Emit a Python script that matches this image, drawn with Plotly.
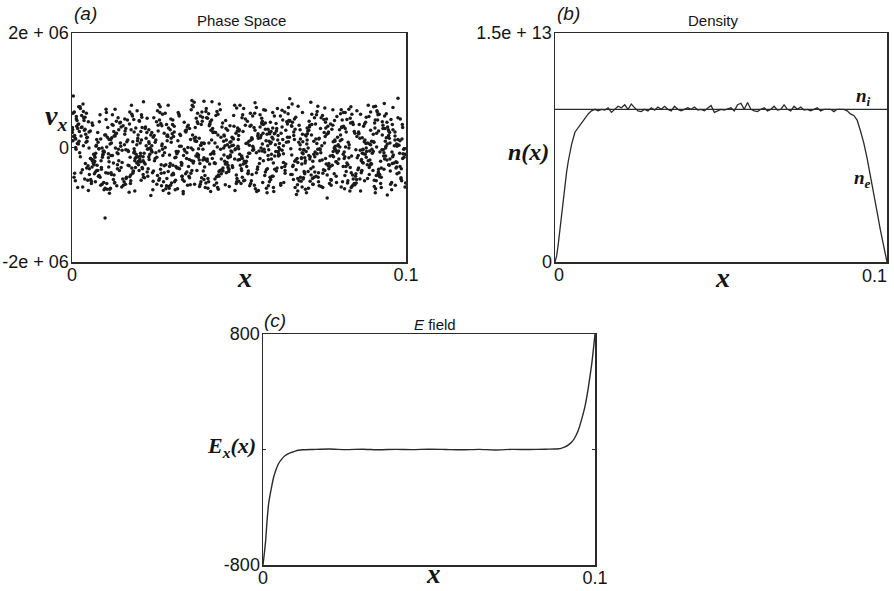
import plotly.graph_objects as go

# ---------------- data ----------------
# (a) phase space: particle positions (units of 1e-4) and velocities (units of 1e4)
PS_X_E4 = [
    3,147,262,318,455,571,609,744,829,961, 27,118,205,389,412,538,683,725,876,934,
    55,176,239,351,487,502,657,791,812,988, 81,133,291,304,443,596,624,768,857,915,
    14,189,224,367,471,519,698,702,891,947, 66,102,277,342,428,555,631,759,838,973,
    39,161,213,396,496,584,672,713,804,926, 92,125,256,329,405,543,645,787,863,999,
    8,154,281,375,462,527,617,736,847,952, 47,197,230,314,438,563,690,779,821,908,
    73,111,265,359,479,508,663,748,894,939, 20,169,208,383,421,579,606,727,832,982,
    60,138,249,336,451,532,679,795,869,920, 86,183,294,307,499,591,628,762,806,964,
    32,129,217,371,434,516,652,709,881,945, 1,192,270,348,467,548,694,771,853,901,
    69,107,236,392,410,569,640,740,817,975, 43,173,286,322,484,536,668,718,898,933,
    97,146,201,363,447,599,613,785,840,957, 17,115,253,379,491,521,687,753,875,914,
    52,158,228,331,426,573,602,732,826,991, 78,199,274,300,458,510,659,794,862,949,
    25,121,243,356,473,553,633,706,808,928, 63,185,219,385,415,587,675,764,889,967,
    11,136,288,311,440,541,621,721,845,906, 88,164,261,372,495,504,696,781,819,985,
    36,112,210,344,452,566,647,742,870,941, 58,177,247,397,419,529,610,711,835,918,
    5,150,296,316,466,594,684,756,856,979, 75,195,233,368,437,517,626,799,882,935,
    29,126,268,327,488,558,661,729,813,960, 95,167,206,390,401,582,615,775,867,904,
    49,140,279,350,461,534,692,717,823,972, 18,181,225,381,429,575,638,746,894,951,
    71,104,258,333,476,512,670,788,850,911, 41,153,240,362,447,549,607,734,801,983,
    84,130,292,306,493,597,651,769,878,924, 7,171,214,395,424,525,686,704,836,944,
    64,119,284,341,456,561,629,751,864,997, 34,188,251,374,407,590,667,793,817,931,
    90,143,203,320,483,539,619,724,859,958, 22,109,266,354,418,570,699,760,890,916,
    56,162,237,388,469,501,643,738,829,970, 13,198,299,302,435,546,674,782,849,937,
    77,124,222,366,497,586,612,715,803,995, 45,179,273,338,412,523,655,767,887,909,
    99,135,245,393,459,568,691,701,842,948, 30,157,211,325,430,508,634,786,871,976,
    67,101,287,358,474,557,680,749,810,921, 10,191,230,377,403,593,622,731,858,962,
    51,149,263,310,481,533,664,797,895,943, 82,116,216,347,444,577,604,722,833,986,
    38,174,297,369,420,514,649,758,873,912, 2,128,241,334,465,552,688,776,807,954,
    62,186,276,399,409,588,616,712,866,929, 24,110,205,355,485,528,676,743,885,990,
    93,166,254,318,426,564,637,790,826,936, 44,139,289,384,454,506,658,726,854,973,
    16,182,227,343,492,579,601,773,818,903, 70,123,269,376,416,541,695,708,892,959,
    12,131,244,357,468,525,603,781,842,976, 46,185,209,311,497,582,660,712,897,918,
    79,103,272,386,433,548,629,764,821,955, 28,150,231,340,406,597,677,739,868,902,
    59,172,295,323,459,511,614,796,853,987, 4,118,258,379,482,563,648,721,815,931,
    88,194,216,302,415,536,693,755,884,967, 35,127,284,364,449,589,601,707,830,944,
    67,161,207,395,476,507,666,783,879,912, 19,109,269,336,424,574,638,746,806,993,
    95,178,226,317,462,520,683,728,869,926, 51,142,290,371,401,556,619,773,838,959,
    8,196,249,345,490,595,652,703,892,905, 74,113,202,398,437,531,687,792,818,948,
    40,158,276,327,471,568,607,734,864,981, 84,186,238,384,413,502,671,757,827,917,
    23,136,264,306,455,584,631,716,881,941, 62,101,213,359,494,540,694,778,851,973,
    17,173,297,312,428,579,658,742,802,929, 98,124,256,391,467,514,618,788,873,908,
    31,167,219,329,441,552,680,710,836,965, 72,145,281,370,405,596,642,769,894,936,
    15,190,234,352,488,527,699,724,812,990, 56,106,271,308,421,566,625,761,858,921,
    90,134,205,387,478,509,662,715,885,952, 37,182,243,333,452,573,606,798,833,903,
    68,117,285,394,409,545,689,737,871,970, 3,159,228,349,474,591,645,705,809,939,
    81,192,260,318,438,530,676,780,847,918, 44,121,292,375,499,556,611,751,877,985,
    25,171,214,342,427,503,655,733,823,946, 60,104,267,382,460,587,697,766,899,909,
    93,147,239,303,445,541,629,792,840,976, 10,188,283,366,493,577,670,718,860,932,
    77,129,201,399,418,519,603,757,815,961, 48,163,254,321,470,560,683,701,887,924,
    20,111,276,357,402,592,637,776,829,994, 65,179,222,388,457,535,666,745,867,913,
    1,138,298,336,483,570,621,709,804,950, 86,156,246,314,433,513,690,785,852,938,
    42,102,210,360,466,558,612,730,891,979, 70,194,279,392,425,599,648,759,834,902,
    13,126,231,328,499,508,676,722,872,957, 55,175,262,373,414,579,633,774,813,922,
    96,140,204,346,480,525,692,736,858,989, 27,184,288,301,446,563,617,791,880,943,
    66,114,220,381,407,544,664,704,825,911, 34,197,251,330,473,588,607,767,845,972,
    80,152,289,361,440,500,651,727,897,934, 6,120,236,315,487,552,697,750,816,967,
    49,168,267,395,431,581,625,782,862,905, 87,105,208,352,454,522,684,713,837,950,
    21,187,294,309,492,569,640,763,890,926, 58,133,225,378,422,537,602,738,808,997,
    39,176,271,344,464,594,668,707,876,915, 74,117,242,322,411,510,633,796,850,982,
    11,160,283,386,479,547,689,754,820,940, 91,145,213,339,436,585,617,720,881,968,
    33,199,260,363,498,532,659,787,841,907, 52,108,230,304,448,572,699,740,866,953,
    99,
]
PS_V_E4 = [
    12,-35,48,-7,22,-61,5,33,-18,70, -44,8,-15,62,-29,17,-3,-52,41,-9,
    29,-58,3,-21,74,-12,38,-6,-33,15, -2,46,-71,19,-40,9,55,27,-14,-48,
    37,-19,26,-64,1,50,-27,-79,6,31, -26,67,-9,30,-55,-38,14,44,-68,2,
    53,-4,-47,7,34,23,-82,-16,59,-36, -13,28,64,-50,-24,-1,41,11,-5,-62,
    21,-66,-30,45,13,-45,-8,72,25,-20, -57,16,10,-11,-73,36,61,-31,-42,48,
    4,-25,-38,82,18,-16,-56,3,30,-1, 41,-7,57,-28,-9,65,24,-43,-76,12,
    -34,52,-19,-3,43,-67,9,18,-10,58, 15,-42,31,-60,-2,27,-35,50,66,-27,
    -69,20,-53,11,63,-24,47,-14,-1,36, 26,-12,6,39,-31,78,-4,-63,19,-40,
    -17,35,-84,-22,8,-6,30,16,-49,5, 60,-51,22,-37,56,13,-70,40,-3,-15,
    -8,2,-40,71,-20,-50,33,-1,44,-74, 33,-71,45,-13,25,7,-18,-39,10,62,
    -47,23,-2,-56,-66,40,15,57,-30,-11, 9,-30,-60,24,3,-19,76,-9,-55,28,
    68,-14,18,-45,38,-77,-26,29,14,-4, -22,49,-29,4,-12,32,-65,-48,54,20,
    0,-37,74,-17,-50,55,7,-24,-63,43, -38,10,-6,51,29,-31,-44,66,1,-53,
    47,-80,35,-9,-36,21,59,-2,-26,17, -59,31,-23,-34,80,-10,-7,36,71,-45,
    19,-5,50,-72,-16,44,-52,8,-39,4, -31,64,-12,12,58,-57,25,-20,-7,77,
    56,-48,-67,-26,-4,16,-33,41,37,-16, -6,13,28,46,-62,-39,68,-56,-21,9,
    -75,-23,0,-50,33,60,-11,22,49,-34, 40,55,-43,16,-28,-3,-40,-68,5,26,
    -10,-63,39,-77,10,28,53,2,-46,-58, 23,38,-8,-4,-46,-72,-15,63,31,50,
    -52,-1,-33,37,69,-20,18,-28,-12,-24, 62,-32,80,-18,-7,46,-59,13,-70,6,
    -28,17,-54,27,20,-28,36,-45,58,-69, 3,-76,13,-40,-54,11,-24,54,-16,39,
    -64,43,-20,58,15,-47,0,-12,24,-8, 28,-11,42,-65,48,6,-73,34,-35,57,
    -19,-54,-4,8,-42,31,45,-60,67,-25, 50,22,-48,-31,1,-66,-19,10,-50,33,
    -40,-27,16,79,-22,3,29,-37,12,-2, 11,58,-75,-6,40,-33,-47,25,-23,72,
    -71,-9,52,-41,-65,51,10,-7,40,-30, 36,5,-37,21,26,-15,-61,47,-4,14,
    -46,-44,19,-23,-13,24,39,-22,-60,-51, 16,34,-16,42,52,-52,-3,-50,27,-13,
    -1,-69,61,-57,-35,37,21,5,-28,44, 45,14,-26,0,66,-8,-77,-34,51,-37,
    -55,-17,9,35,-19,-58,47,19,-11,1, 31,-61,-44,-14,5,70,-29,-66,36,-64,
    -24,27,25,-70,-60,-21,13,39,-44,22, 71,-34,-10,14,37,-41,-54,-4,8,-19,
    -12,48,-64,-36,-27,17,62,-25,-58,55, -36,-3,34,55,11,-63,-13,52,-18,-46,
    7,-45,-50,-19,-48,43,34,-15,61,10, -60,39,3,60,30,-5,-42,-71,-31,-28,
    -3,24,-41,66,-18,8,-27,39,-55,86, 18,-9,53,-33,2,-71,44,-20,11,-38,
    -50,61,-14,4,-62,30,-5,-88,27,49, 35,-26,7,-46,51,-12,72,15,-40,-7,
    -21,41,-66,23,-29,57,-36,3,64,-58, 90,-47,29,-2,16,-19,10,-64,-8,33,
    -35,5,-10,48,-77,39,-53,26,-30,13, 52,-62,20,-24,36,-4,61,-42,5,-83,
    -14,33,-57,81,-6,-37,14,-16,44,25, 6,-18,38,-59,27,66,-45,52,-69,-3,
    -61,74,-3,12,-44,-27,31,-8,17,-52, 27,-40,-80,-15,63,20,-12,-33,58,40,
    -45,12,9,36,-2,-56,85,6,-22,-68, 14,-73,46,-49,22,4,-19,-61,33,21,
    -28,50,-32,2,-68,43,25,-11,-76,-10, 57,-2,-6,-64,41,-21,-39,69,9,-43,
    -9,-30,71,27,-13,-79,48,-48,-17,59, 39,22,-23,-40,-54,15,-4,32,-62,-26,
    -70,62,16,-7,8,-43,37,-23,1,45, 22,-56,-49,53,-35,68,-15,-3,37,-79,
    -39,-5,33,-28,76,-9,-58,46,-44,3, 2,44,-72,18,-20,28,9,-37,62,-20,
    47,-35,-1,-53,-75,-46,22,11,-12,35, -56,18,58,-18,33,-1,-66,-29,25,-47,
    -1,-67,-25,40,3,52,-31,79,-54,8, 30,10,-59,-81,-41,-23,55,-6,-35,71,
    -24,-44,12,8,59,35,-9,-52,-3,-36, 60,29,-37,-33,-16,-60,18,24,48,-15,
    -49,-17,75,61,-48,11,-76,-14,-65,29, 17,57,-13,-11,21,-34,42,-70,13,-55,
    -16,-78,-52,30,-27,74,-2,7,-27,18, 43,1,-30,-68,47,-14,-46,37,-10,-72,
    -7,36,26,-45,-3,2,65,-25,-48,52, -58,-23,-67,16,-60,-49,-22,58,40,-4,
    26,67,47,-21,13,39,-70,-40,-19,31, -32,-52,-17,55,-38,-6,5,20,74,-63,
    71,14,-44,-1,68,24,-33,-57,-1,-17, -12,-36,3,-53,-24,-63,50,-9,-41,64,
    35,-11,-62,44,4,46,-13,30,22,-31, -66,-60,21,-36,-51,-29,23,-46,-56,11,
    9,49,-35,74,30,-75,-41,15,-6,-44, -43,-27,60,-3,-11,18,70,-19,43,23,
    54,20,-21,-31,-59,-40,-26,-64,-27,-61, -19,-63,-54,11,45,32,3,41,61,-8,
    -74,31,8,-66,-32,-16,-55,-3,-36,40, 20,-41,-42,40,18,57,-7,-50,7,-22,
    -30,6,36,-22,-71,-4,27,34,-62,-49, 63,-16,-9,-50,9,-67,-38,-32,28,6,
    -2,-55,-68,22,-42,29,46,-16,-29,-38, -52,40,22,-9,-20,-44,-18,56,-72,27,
    45,-31,-45,-56,56,12,-63,-7,16,-57, -23,-73,13,33,-1,-24,15,-59,-15,16,
    11,-7,-28,-74,-63,41,-29,23,-47,-70, -63,25,51,-17,26,-58,-50,-44,35,-12,
    32,-48,-3,-43,-26,7,32,-1,-58,48, -40,-14,-74,2,38,-52,-11,-28,-4,-33,
    15,-64,40,-60,-8,60,-69,49,-33,2, -17,8,-16,29,-70,-37,21,-54,53,-66,
    76,-24,-57,-27,14,-10,-47,13,-66,34, -37,-45,31,-47,-39,25,-23,-67,-23,-41,
    -123,
]

# (b) density: electron density n_e (units of 1e13) vs x (units of 1e-3)
NE_X_MILLI_LEFT = [0, 0.5, 1, 1.5, 2, 2.5, 3, 3.5, 4, 4.5, 5, 6, 7, 8, 9, 10, 11]
NE_LEFT = [0, 0.04, 0.12, 0.22, 0.31, 0.41, 0.50, 0.59, 0.66, 0.72, 0.77, 0.85, 0.88, 0.91, 0.94, 0.97, 0.99]
NE_PLATEAU = [  # x = 12 ... 88 (step 1, units of 1e-3)
    1.00, 0.99, 1.00, 0.995, 1.01, 0.98, 1.00, 1.02, 1.01, 1.03,
    1.00, 1.035, 1.01, 0.99, 0.985, 1.00, 0.99, 1.01, 0.995, 1.015,
    1.00, 1.02, 1.00, 0.99, 1.02, 1.00, 0.99, 1.00, 1.01, 1.00,
    1.015, 0.995, 1.00, 0.99, 1.01, 1.025, 0.98, 0.99, 1.00, 0.995,
    1.00, 1.01, 0.99, 1.03, 1.04, 1.00, 1.045, 1.00, 0.99, 0.985,
    1.00, 1.01, 0.99, 1.00, 1.02, 0.995, 1.00, 1.03, 1.00, 0.99,
    1.02, 1.00, 1.015, 0.995, 1.00, 0.99, 1.00, 1.01, 0.99, 1.00,
    1.00, 1.00, 0.985, 1.00, 1.00, 1.00, 0.99,
]
NE_X_MILLI_RIGHT = [89, 90, 91, 92, 93, 94, 95, 96, 97, 98, 99, 99.5, 100]
NE_RIGHT = [0.97, 0.96, 0.93, 0.86, 0.78, 0.68, 0.57, 0.45, 0.33, 0.21, 0.10, 0.05, 0]
NI_X = [0, 0.1]
NI = [1e13, 1e13]

# (c) electric field
E_X = [0, 0.0004, 0.0008, 0.0012, 0.0017, 0.0025, 0.0032, 0.004, 0.0047, 0.0057,
       0.0067, 0.0077, 0.0087, 0.0097, 0.0107, 0.012, 0.015, 0.02, 0.025, 0.03,
       0.035, 0.04, 0.045, 0.05, 0.055, 0.06, 0.065, 0.07, 0.075, 0.08,
       0.085, 0.088, 0.089, 0.09, 0.091, 0.092, 0.093, 0.094, 0.095, 0.096,
       0.097, 0.098, 0.099, 0.0995, 0.1]
E_FIELD = [-800, -720, -630, -500, -375, -270, -192, -135, -97, -65,
           -42, -28, -19, -11, -5, -2, 0, 3, -1, 2,
           -2, 1, -1, 2, 0, -2, 1, -3, 1, 0,
           2, 3, 5, 10, 18, 32, 52, 85, 135, 210,
           300, 430, 590, 690, 800]

X_TICKS = [0, 0.1]
X_TICK_TEXT = ["0", "0.1"]

# ---------------- derived ----------------
ps_x = [v * 1e-4 for v in PS_X_E4]
ps_v = [v * 1e4 for v in PS_V_E4]
ne_x = [v * 1e-3 for v in NE_X_MILLI_LEFT] + [i * 1e-3 for i in range(12, 12 + len(NE_PLATEAU))] \
       + [v * 1e-3 for v in NE_X_MILLI_RIGHT]
ne = [v * 1e13 for v in NE_LEFT + NE_PLATEAU + NE_RIGHT]

# ---------------- figure ----------------
W, H = 894, 591
INK = "#2a2a2a"
TXT = "#141414"
TICKFONT = dict(family="Liberation Sans", size=18, color=TXT)
MATH = "Liberation Serif"


def px(x):
    return x / W


def py(y):
    return 1 - y / H


fig = go.Figure()
fig.add_trace(go.Scatter(x=ps_x, y=ps_v, mode="markers", xaxis="x", yaxis="y",
                         marker=dict(size=3.5, color="#1a1a1a", line=dict(width=0)),
                         showlegend=False, hoverinfo="skip"))
fig.add_trace(go.Scatter(x=NI_X, y=NI, mode="lines", xaxis="x2", yaxis="y2",
                         line=dict(color=INK, width=1.3), showlegend=False))
fig.add_trace(go.Scatter(x=ne_x, y=ne, mode="lines", xaxis="x2", yaxis="y2",
                         line=dict(color=INK, width=1.3), showlegend=False))
fig.add_trace(go.Scatter(x=E_X, y=E_FIELD, mode="lines", xaxis="x3", yaxis="y3",
                         line=dict(color=INK, width=1.4, shape="spline", smoothing=0.6),
                         showlegend=False))

axis_common = dict(showline=True, linecolor=INK, linewidth=1.5, mirror="ticks",
                   showgrid=False, zeroline=False, tickfont=TICKFONT, automargin=False)
xcommon = dict(axis_common, range=[0, 0.1], tickvals=X_TICKS, ticktext=X_TICK_TEXT, ticks="",
               ticklabelstandoff=-4)
ycommon = dict(axis_common, ticks="inside", ticklen=3, tickcolor=INK, ticklabelstandoff=-2)

fig.update_layout(
    width=W, height=H, margin=dict(l=0, r=0, t=0, b=0, autoexpand=False),
    paper_bgcolor="white", plot_bgcolor="white",
    xaxis=dict(xcommon, domain=[px(72), px(406)], anchor="y"),
    yaxis=dict(ycommon, domain=[py(262), py(33)], anchor="x", range=[-2e6, 2e6],
               tickvals=[-2e6, 0, 2e6], ticktext=["-2e + 06", "0", "2e + 06"]),
    # the right-hand "0.1" of panel (b) sits at the page edge; it is drawn right-aligned below
    xaxis2=dict(xcommon, domain=[px(555), px(887)], anchor="y2",
                ticktext=[X_TICK_TEXT[0], ""], ticklabelshift=4),
    yaxis2=dict(ycommon, domain=[py(262), py(33)], anchor="x2", range=[0, 1.5e13],
                tickvals=[0, 1.5e13], ticktext=["0", "1.5e + 13"]),
    xaxis3=dict(xcommon, domain=[px(263), px(595)], anchor="y3"),
    yaxis3=dict(ycommon, domain=[py(565), py(334)], anchor="x3", range=[-800, 800],
                tickvals=[-800, 0, 800], ticktext=["-800", "", "800"]),
)

ann = []


def text(x, y, s, size, family="Liberation Sans", yanchor="middle"):
    ann.append(dict(x=px(x), y=py(y), xref="paper", yref="paper", text=s, showarrow=False,
                    xanchor="center", yanchor=yanchor,
                    font=dict(family=family, size=size, color=TXT)))


# tick label "0.1" of panel (b), right-aligned on its tick value
ann.append(dict(x=X_TICKS[1], xref="x2", y=py(276), yref="paper", text=X_TICK_TEXT[1],
                showarrow=False, xanchor="right", yanchor="middle", xshift=2,
                font=TICKFONT))

# panel labels and titles
text(85, 14, "<i>(a)</i>", 19)
text(242, 21, "Phase Space", 15)
text(568, 14, "<i>(b)</i>", 19)
text(713, 21, "Density", 15)
text(275, 320, "<i>(c)</i>", 19)
text(435, 325, "<i>E</i> field", 15)

# axis titles (math style)
text(245, 277, "<b><i>x</i></b>", 28, MATH)
text(722, 277, "<b><i>x</i></b>", 28, MATH)
text(433, 591, "<b><i>x</i></b>", 27, MATH, yanchor="bottom")
text(56, 117, "<b><i>v</i></b><sub><b><i>x</i></b></sub>", 28, MATH)
text(528, 152, "<b><i>n(x)</i></b>", 24, MATH)
text(232, 447, "<b><i>E</i></b><sub><b><i>x</i></b></sub><b><i>(x)</i></b>", 22, MATH)
text(863, 97, "<b><i>n</i></b><sub><b><i>i</i></b></sub>", 19, MATH)
text(862, 179, "<b><i>n</i></b><sub><b><i>e</i></b></sub>", 19, MATH)

fig.update_layout(annotations=ann)
fig.write_html(
    "out.html",
    config={"displayModeBar": False, "staticPlot": True},
    post_script="document.body.style.margin='0';document.body.style.padding='0';"
                "document.body.style.overflow='hidden';",
)
